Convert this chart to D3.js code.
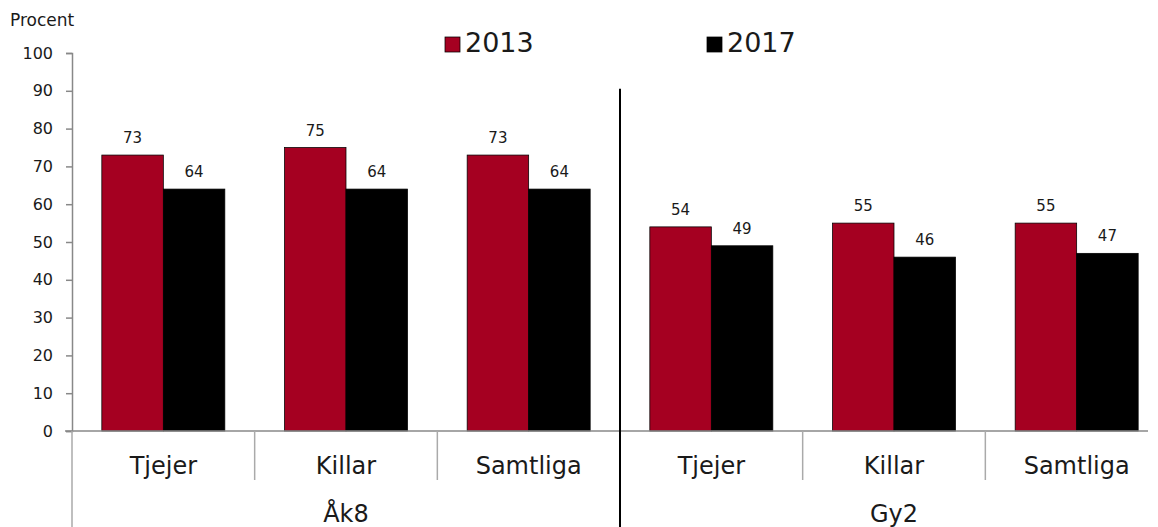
<!DOCTYPE html>
<html><head><meta charset="utf-8">
<script src="https://cdn.jsdelivr.net/npm/d3@7"></script>
<style>body{margin:0;background:#fff;}svg{display:block;font-family:"DejaVu Sans",Verdana,sans-serif;}</style>
</head><body>
<svg id="c" width="1158" height="527"></svg>
<script>
const groups = ["Åk8", "Gy2"];
const categories = ["Tjejer", "Killar", "Samtliga"];
const seriesNames = ["2013", "2017"];
const values2013 = [73, 75, 73, 54, 55, 55];
const values2017 = [64, 64, 64, 49, 46, 47];
const yTicks = [0,10,20,30,40,50,60,70,80,90,100];
const colors = ["#A50021", "#000000"];

(function () {
const svg = d3.select("#c");
const pLeft = 72, pRight = 1168, pTop = 53, pBottom = 431;
const keys = [];
groups.forEach(g => categories.forEach(c => keys.push(g + "|" + c)));
const x = d3.scaleBand().domain(keys).range([pLeft, pRight]).paddingInner(0).paddingOuter(0);
const xs = d3.scaleBand().domain(seriesNames).range([0, x.bandwidth()]).paddingInner(0).paddingOuter(0.485);
const y = d3.scaleLinear().domain([0, 100]).range([pBottom, pTop]);

// y axis
const yAxis = d3.axisLeft(y).tickValues(yTicks).tickSize(6).tickPadding(13);
const yg = svg.append("g").attr("transform", `translate(${pLeft},0)`).call(yAxis);
yg.select(".domain").attr("stroke", "#888").attr("stroke-width", 1.5);
yg.selectAll(".tick line").attr("stroke", "#888").attr("stroke-width", 1.5);
yg.selectAll(".tick text").attr("font-size", 16).attr("fill", "#1a1a1a").attr("font-family", "DejaVu Sans");

svg.append("text").attr("x", 10).attr("y", 26).attr("font-size", 17).attr("fill", "#1a1a1a").text("Procent");

// bars
const data = keys.map((k, i) => ({k, vals: [values2013[i], values2017[i]]}));
const gBars = svg.append("g");
data.forEach(d => {
  d.vals.forEach((v, si) => {
    const bx = x(d.k) + xs(seriesNames[si]);
    gBars.append("rect").attr("x", bx).attr("y", y(v)).attr("width", xs.bandwidth()).attr("height", y(0) - y(v))
      .attr("fill", colors[si]).attr("stroke", "#000").attr("stroke-width", 0.75);
    gBars.append("text").attr("x", bx + xs.bandwidth() / 2).attr("y", y(v) - 12)
      .attr("text-anchor", "middle").attr("font-size", 15).attr("fill", "#1a1a1a").text(v);
  });
});

// x axis line
svg.append("line").attr("x1", 65).attr("x2", 1148).attr("y1", pBottom).attr("y2", pBottom).attr("stroke", "#888").attr("stroke-width", 1.5);

// category separators
keys.forEach((k, i) => {
  if (i % 3 !== 0) {
    svg.append("line").attr("x1", x(k)).attr("x2", x(k)).attr("y1", pBottom).attr("y2", 480).attr("stroke", "#aaa").attr("stroke-width", 1.5);
  }
});
svg.append("line").attr("x1", pLeft).attr("x2", pLeft).attr("y1", pBottom).attr("y2", 527).attr("stroke", "#aaa").attr("stroke-width", 1.5);
const divX = x(groups[1] + "|" + categories[0]);
svg.append("line").attr("x1", divX).attr("x2", divX).attr("y1", y(90) - 2).attr("y2", 527).attr("stroke", "#000").attr("stroke-width", 2);

// category labels
keys.forEach(k => {
  svg.append("text").attr("x", x(k) + x.bandwidth() / 2).attr("y", 474).attr("text-anchor", "middle")
    .attr("font-size", 24).attr("fill", "#1a1a1a").text(k.split("|")[1]);
});
groups.forEach(g => {
  const x0 = x(g + "|" + categories[0]);
  const x1 = x(g + "|" + categories[2]) + x.bandwidth();
  svg.append("text").attr("x", (x0 + x1) / 2).attr("y", 522).attr("text-anchor", "middle")
    .attr("font-size", 24).attr("fill", "#1a1a1a").text(g);
});

// legend
const legX = [445, 707];
seriesNames.forEach((s, i) => {
  svg.append("rect").attr("x", legX[i]).attr("y", 37).attr("width", 15).attr("height", 15).attr("fill", colors[i]).attr("stroke", "#000").attr("stroke-width", 0.75);
  svg.append("text").attr("x", legX[i] + 20).attr("y", 52).attr("font-size", 27).attr("fill", "#1a1a1a").text(s);
});
})();
</script>
</body></html>
